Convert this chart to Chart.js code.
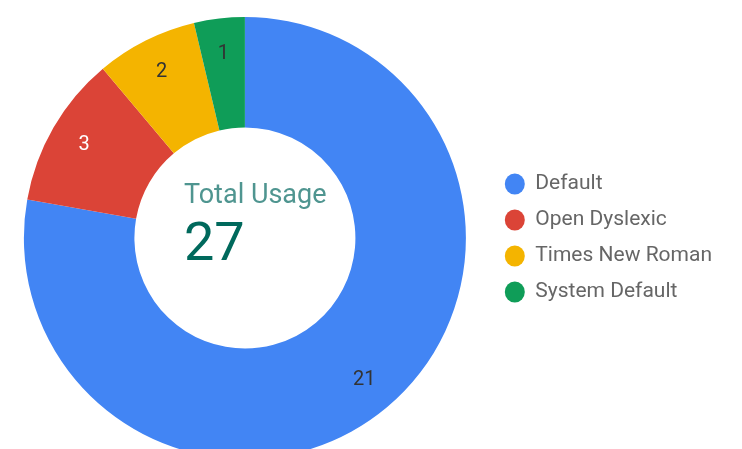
<!DOCTYPE html>
<html>
<head>
<meta charset="utf-8">
<script src="https://cdn.jsdelivr.net/npm/chart.js@4"></script>
<style>
  html, body { margin: 0; padding: 0; background: #fff; overflow: hidden; }
  #wrap { width: 742px; height: 449px; overflow: hidden; }
  #box { width: 742px; height: 476px; }
</style>
</head>
<body>
<div id="wrap"><div id="box"><canvas id="fontUsage"></canvas></div></div>
<script>
'use strict';

const categories = ['Default', 'Open Dyslexic', 'Times New Roman', 'System Default'];
const usage = [21, 3, 2, 1];
const sliceColors = ['#4285F4', '#DB4437', '#F4B400', '#0F9D58'];
const labelColors = ['#333333', '#ffffff', '#333333', '#333333'];
const centerTitle = 'Total Usage';

// Werte in die Segmente schreiben
const sliceLabels = {
  id: 'sliceLabels',
  afterDatasetsDraw(chart) {
    const { ctx } = chart;
    const meta = chart.getDatasetMeta(0);
    ctx.save();
    ctx.font = '20px Roboto';
    ctx.textAlign = 'center';
    ctx.textBaseline = 'middle';
    meta.data.forEach((arc, i) => {
      const { x, y, startAngle, endAngle, innerRadius, outerRadius } = arc.getProps(
        ['x', 'y', 'startAngle', 'endAngle', 'innerRadius', 'outerRadius'], true);
      const mid = (startAngle + endAngle) / 2;
      const r = innerRadius + (outerRadius - innerRadius) * 0.68;
      ctx.fillStyle = labelColors[i];
      ctx.fillText(String(usage[i]), x + Math.cos(mid) * r, y + Math.sin(mid) * r);
    });
    ctx.restore();
  },
};

// Summe in der Mitte
const centerText = {
  id: 'centerText',
  afterDraw(chart) {
    const { ctx } = chart;
    const arc = chart.getDatasetMeta(0).data[0];
    if (!arc) return;
    const total = usage.reduce((sum, v) => sum + v, 0);
    ctx.save();
    ctx.textAlign = 'left';
    ctx.textBaseline = 'alphabetic';
    ctx.fillStyle = '#4f9590';
    ctx.font = '27px Roboto';
    ctx.fillText(centerTitle, arc.x - 61, arc.y - 35);
    ctx.fillStyle = '#00695c';
    ctx.font = '54px Roboto';
    ctx.fillText(String(total), arc.x - 61, arc.y + 22);
    ctx.restore();
  },
};

const ctx = document.getElementById('fontUsage').getContext('2d');
new Chart(ctx, {
  type: 'doughnut',
  data: {
    labels: categories,
    datasets: [
      {
        data: usage,
        backgroundColor: sliceColors,
        borderWidth: 0,
        hoverOffset: 0,
      },
    ],
  },
  options: {
    responsive: true,
    maintainAspectRatio: false,
    animation: false,
    cutout: '50%',
    layout: { padding: { top: 17, bottom: 17, left: 0, right: 20 } },
    plugins: {
      tooltip: { enabled: false },
      legend: {
        position: 'right',
        align: 'center',
        labels: {
          usePointStyle: true,
          pointStyle: 'circle',
          boxHeight: 15,
          pointStyleWidth: 20,
          padding: 15,
          color: '#666666',
          font: { family: 'Roboto', size: 21 },
        },
      },
    },
  },
  plugins: [sliceLabels, centerText],
});
</script>
</body>
</html>
